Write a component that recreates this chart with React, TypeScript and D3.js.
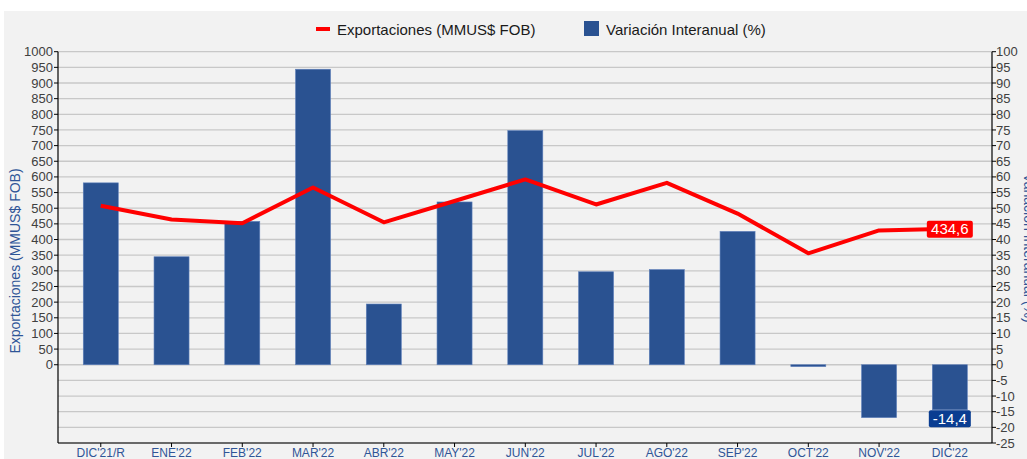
import { scaleBand, scaleLinear, line, range } from "d3";

const categories = [
  "DIC'21/R", "ENE'22", "FEB'22", "MAR'22", "ABR'22", "MAY'22", "JUN'22",
  "JUL'22", "AGO'22", "SEP'22", "OCT'22", "NOV'22", "DIC'22",
];
// Exportaciones (MMUS$ FOB) - left axis
const exportaciones = [508, 464, 452, 566, 455, 523, 592, 512, 581, 483, 356, 429, 434.6];
// Variación Interanual (%) - right axis
const variacion = [58.1, 34.5, 45.8, 94.4, 19.4, 52.0, 74.8, 29.7, 30.4, 42.6, -0.6, -16.9, -14.4];
const leftTicks = range(0, 1001, 50);
const rightTicks = range(-25, 101, 5);

const W = 1027;
const H = 459;
const plot = { left: 58, right: 992, top: 51.7, bottom: 443 };
const font = "'Liberation Sans', Arial, sans-serif";
const barColor = "#2a5291";
const blueText = "#2f5597";

export default function App() {
  const x = scaleBand<string>()
    .domain(categories)
    .range([65.4, 985.2])
    .paddingInner(0.505)
    .paddingOuter(0.2525);
  const yLeft = scaleLinear().domain([-250, 1000]).range([plot.bottom, plot.top]);
  const yRight = scaleLinear().domain([-25, 100]).range([plot.bottom, plot.top]);

  const cx = (c: string) => (x(c) ?? 0) + x.bandwidth() / 2;

  const linePath = line<number>()
    .x((_, i) => cx(categories[i]))
    .y((d) => yLeft(d))(exportaciones);

  const last = categories.length - 1;
  const lastX = cx(categories[last]);

  return (
    <svg width={W} height={H} style={{ position: "absolute", left: 0, top: 0 }} fontFamily={font}>
      <rect x={0} y={0} width={W} height={H} fill="#ffffff" />
      <rect x={4} y={11} width={W - 4} height={H - 11} fill="#f2f2f2" />

      {/* gridlines */}
      {rightTicks.map((t) => (
        <line key={`g${t}`} x1={plot.left} x2={plot.right} y1={yRight(t)} y2={yRight(t)}
          stroke="#c8c8c8" strokeWidth={1.3} />
      ))}

      {/* bars */}
      {variacion.map((v, i) => (
        <rect key={`b${i}`} x={x(categories[i])} width={x.bandwidth()}
          y={yRight(Math.max(0, v))} height={Math.abs(yRight(v) - yRight(0))}
          fill={barColor} stroke="#5f80bb" strokeWidth={0.6} />
      ))}

      {/* line */}
      <path d={linePath ?? ""} fill="none" stroke="#ff0000" strokeWidth={4} strokeLinejoin="round" />

      {/* axes */}
      <line x1={plot.left} x2={plot.left} y1={plot.top} y2={plot.bottom} stroke="#000" strokeWidth={1.2} />
      <line x1={plot.right} x2={plot.right} y1={plot.top} y2={plot.bottom} stroke="#000" strokeWidth={1.2} />
      <line x1={plot.left} x2={plot.right} y1={plot.bottom} y2={plot.bottom} stroke="#000" strokeWidth={1.2} />

      {leftTicks.map((t) => (
        <g key={`l${t}`}>
          <line x1={plot.left - 4} x2={plot.left} y1={yLeft(t)} y2={yLeft(t)} stroke="#000" />
          <text x={plot.left - 5} y={yLeft(t)} dy="0.35em" textAnchor="end" fontSize={13} fill="#404040">{t}</text>
        </g>
      ))}
      {rightTicks.map((t) => (
        <g key={`r${t}`}>
          <line x1={plot.right} x2={plot.right + 4} y1={yRight(t)} y2={yRight(t)} stroke="#000" />
          <text x={plot.right + 4} y={yRight(t)} dy="0.35em" textAnchor="start" fontSize={13} fill="#404040">{t}</text>
        </g>
      ))}
      {categories.map((c) => (
        <g key={`x${c}`}>
          <line x1={cx(c)} x2={cx(c)} y1={plot.bottom} y2={plot.bottom + 4} stroke="#000" />
          <text x={cx(c)} y={457} textAnchor="middle" fontSize={12} fill={blueText}>{c}</text>
        </g>
      ))}

      {/* axis titles */}
      <text transform="translate(20,261) rotate(-90)" textAnchor="middle" fontSize={14} fill={blueText}>
        Exportaciones (MMUS$ FOB)
      </text>
      <text transform="translate(1023.5,248) rotate(90)" textAnchor="middle" fontSize={14} fill={blueText}>
        Variación Interanual (%)
      </text>

      {/* data labels */}
      <rect x={lastX - 23} y={yLeft(exportaciones[last]) - 8} width={46} height={17} rx={2} fill="#ff0000" />
      <text x={lastX} y={yLeft(exportaciones[last])} dy="0.36em" textAnchor="middle" fontSize={15} fill="#fff">
        {String(exportaciones[last]).replace(".", ",")}
      </text>
      <rect x={lastX - 21} y={yRight(variacion[last]) + 0.5} width={42} height={17} rx={2} fill="#0a3d91" />
      <text x={lastX} y={yRight(variacion[last]) + 9} dy="0.36em" textAnchor="middle" fontSize={15} fill="#fff">
        {String(variacion[last]).replace(".", ",")}
      </text>

      {/* legend */}
      <line x1={316} x2={330} y1={29} y2={29} stroke="#ff0000" strokeWidth={4} />
      <text x={337} y={34.5} fontSize={15} fill="#1a1a1a">Exportaciones (MMUS$ FOB)</text>
      <rect x={584} y={21} width={15} height={15} fill={barColor} />
      <text x={606} y={34.5} fontSize={15} fill="#1a1a1a">Variación Interanual (%)</text>
    </svg>
  );
}
